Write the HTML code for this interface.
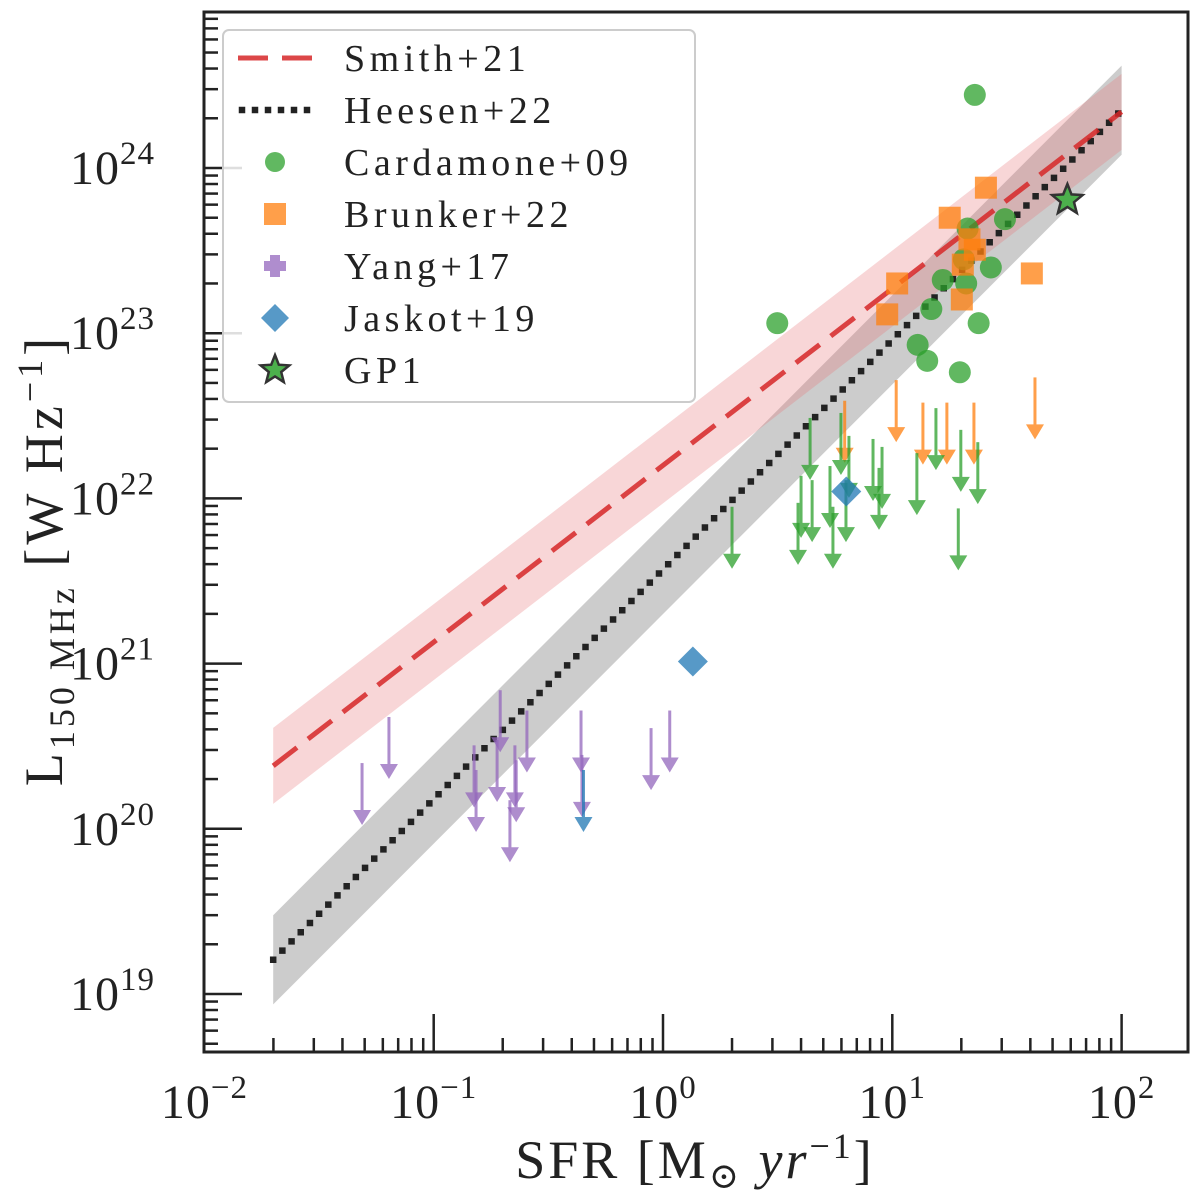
<!DOCTYPE html>
<html><head><meta charset="utf-8"><style>
html,body{margin:0;padding:0;background:#fff;}
svg{display:block;font-family:"Liberation Serif","DejaVu Serif",serif;}
</style></head><body>
<svg id="chart" width="1200" height="1200" viewBox="0 0 1200 1200" xmlns="http://www.w3.org/2000/svg">
<g id="plot"></g>
</svg>
<script>
// ---- data (log10 values) ----
const smithSlope = 1.07, smithAt1 = 22.20, smithWidth = 0.23;
const heesenSlope = 1.39, heesenAt1 = 21.57, heesenWidth = 0.27;
const lineRange = [-1.7, 2.0];
const xTickExps = [-2, -1, 0, 1, 2];
const yTickExps = [19, 20, 21, 22, 23, 24];
// Cardamone+09 detections [SFR, L]
const cardSFR = [22.9, 21.3, 31.0, 26.9, 16.6, 21.0, 14.8, 23.8, 12.9, 14.2, 19.7, 3.15, 20.5];
const cardL = [2.77e24, 4.3e23, 4.9e23, 2.5e23, 2.1e23, 2.0e23, 1.4e23, 1.15e23, 8.5e22, 6.8e22, 5.8e22, 1.15e23, 2.8e23];
// Brunker+22 detections
const brunSFR = [25.6, 17.8, 21.7, 22.9, 20.3, 10.5, 40.6, 20.1, 9.5];
const brunL = [7.6e23, 5.0e23, 3.7e23, 3.2e23, 2.6e23, 2.0e23, 2.3e23, 1.6e23, 1.3e23];
// Brunker+22 upper limits
const brunLimSFR = [6.2, 10.4, 13.6, 17.3, 22.7, 41.9];
const brunLimL = [3.9e22, 5.2e22, 3.8e22, 3.8e22, 3.8e22, 5.4e22];
// Cardamone+09 upper limits
const cardLimSFR = [2.0, 3.88, 4.0, 4.38, 4.47, 5.35, 5.51, 5.97, 6.28, 6.47, 8.24, 8.75, 9.02, 12.8, 15.5, 19.4, 19.9, 23.6];
const cardLimL = [8.9e21, 9.4e21, 1.37e22, 3.07e22, 1.29e22, 1.57e22, 8.9e21, 3.29e22, 1.29e22, 2.39e22, 2.29e22, 1.53e22, 2.05e22, 1.88e22, 3.52e22, 8.7e21, 2.6e22, 2.19e22];
// Yang+17 upper limits
const yangLimSFR = [0.0487, 0.0638, 0.150, 0.153, 0.189, 0.195, 0.215, 0.226, 0.229, 0.255, 0.439, 0.443, 0.887, 1.07];
const yangLimL = [2.5e20, 4.75e20, 3.2e20, 2.27e20, 3.45e20, 6.9e20, 1.49e20, 3.2e20, 2.6e20, 5.2e20, 5.2e20, 2.8e20, 4.07e20, 5.2e20];
// Jaskot+19
const jasSFR = [6.3, 1.35];
const jasL = [1.1e22, 1.03e21];
const jasLimSFR = [0.45];
const jasLimL = [2.27e20];
// GP1
const gpSFR = [58];
const gpL = [6.4e23];

// ---- axes ----
const X0 = 204, X1 = 1188, Y0 = 12, Y1 = 1052;
const xDec = 229.3, yDec = 165.2;
function sx(v){ return 663 + Math.log10(v) * xDec; }
function sxl(l){ return 663 + l * xDec; }
function sy(v){ return 168 + (24 - Math.log10(v)) * yDec; }
function syl(l){ return 168 + (24 - l) * yDec; }

const NS = "http://www.w3.org/2000/svg";
const g = document.getElementById('plot');
function mk(tag, attrs, parent){
  const e = document.createElementNS(NS, tag);
  for (const k in attrs) e.setAttribute(k, attrs[k]);
  (parent || g).appendChild(e);
  return e;
}
const defs = mk('defs', {});
const cp = mk('clipPath', {id:'clip'}, defs);
mk('rect', {x:X0, y:Y0, width:X1-X0, height:Y1-Y0}, cp);
const data = mk('g', {'clip-path':'url(#clip)'});



function band(slope, at1, w, color, op, name){
  const a = lineRange[0], b = lineRange[1];
  const pts = [[a, at1+slope*a+w],[b, at1+slope*b+w],[b, at1+slope*b-w],[a, at1+slope*a-w]];
  const p = mk('polygon', {points: pts.map(q => sxl(q[0])+','+syl(q[1])).join(' '), fill: color, 'fill-opacity': op}, data);
  
  
}
band(heesenSlope, heesenAt1, heesenWidth, '#7f7f7f', 0.4, 'heesen-band');
band(smithSlope, smithAt1, smithWidth, '#e8767a', 0.3, 'smith-band');

function line(slope, at1, attrs, name){
  const a = lineRange[0], b = lineRange[1];
  const l = mk('line', Object.assign({x1:sxl(a), y1:syl(at1+slope*a), x2:sxl(b), y2:syl(at1+slope*b)}, attrs), data);
  
  
}
line(heesenSlope, heesenAt1, {stroke:'#222', 'stroke-width':6.5, 'stroke-dasharray':'0 13', 'stroke-linecap':'square'}, 'heesen-line');
line(smithSlope, smithAt1, {stroke:'#d62728', 'stroke-opacity':0.85, 'stroke-width':5, 'stroke-dasharray':'30 14'}, 'smith-line');

function arrow(xv, lv, color, name){
  const x = sx(xv), y = sy(lv);
  const gg = mk('g', {opacity:0.75}, data);
  
  
  mk('line', {x1:x, y1:y, x2:x, y2:y+50, stroke:color, 'stroke-width':3}, gg);
  mk('polygon', {points:`${x-9},${y+47} ${x+9},${y+47} ${x},${y+62}`, fill:color}, gg);
}
brunLimSFR.forEach((v,i)=>arrow(v, brunLimL[i], '#ff7f0e', 'brunker-limit'));
cardLimSFR.forEach((v,i)=>arrow(v, cardLimL[i], '#2ca02c', 'cardamone-limit'));
yangLimSFR.forEach((v,i)=>arrow(v, yangLimL[i], '#9467bd', 'yang-limit'));
jasLimSFR.forEach((v,i)=>arrow(v, jasLimL[i], '#1f77b4', 'jaskot-limit'));

cardSFR.forEach((v,i)=>{
  const c = mk('circle', {cx:sx(v), cy:sy(cardL[i]), r:11, fill:'#2ca02c', 'fill-opacity':0.75}, data);
  
  
});
brunSFR.forEach((v,i)=>{
  const r = mk('rect', {x:sx(v)-11, y:sy(brunL[i])-11, width:22, height:22, fill:'#ff7f0e', 'fill-opacity':0.75}, data);
  
  
});
jasSFR.forEach((v,i)=>{
  const x = sx(v), y = sy(jasL[i]);
  const p = mk('polygon', {points:`${x},${y-15} ${x+15},${y} ${x},${y+15} ${x-15},${y}`, fill:'#1f77b4', 'fill-opacity':0.75}, data);
  
  
});
function starPts(cx, cy, R, r){
  let s = [];
  for (let k=0;k<10;k++){
    const a = -Math.PI/2 + k*Math.PI/5, rr = k%2 ? r : R;
    s.push((cx+rr*Math.cos(a)).toFixed(1)+','+(cy+rr*Math.sin(a)).toFixed(1));
  }
  return s.join(' ');
}
gpSFR.forEach((v,i)=>{
  const p = mk('polygon', {points:starPts(sx(v), sy(gpL[i]), 16, 7), fill:'#4cb04c', stroke:'#333', 'stroke-width':2.5}, data);
  
  
});

// frame
const frame = mk('rect', {x:X0, y:Y0, width:X1-X0, height:Y1-Y0, fill:'none', stroke:'#222', 'stroke-width':3});



// ticks
const ticks = mk('g', {stroke:'#222', 'stroke-width':2.5});


for (let e=-3; e<=2; e++){
  for (let m=1; m<10; m++){
    const x = sxl(e + Math.log10(m));
    if (x < X0+1 || x > X1-1) continue;
    const len = m===1 ? 38 : 14;
    mk('line', {x1:x, y1:Y1, x2:x, y2:Y1-len}, ticks);
  }
}
for (let e=18; e<=24; e++){
  for (let m=1; m<10; m++){
    const y = syl(e + Math.log10(m));
    if (y < Y0+1 || y > Y1-1) continue;
    const len = m===1 ? 38 : 14;
    mk('line', {x1:X0, y1:y, x2:X0+len, y2:y}, ticks);
  }
}
xTickExps.forEach(e=>{
  const t = mk('text', {x:sxl(e), y:1118, 'text-anchor':'middle', 'font-size':48, fill:'#222', 'letter-spacing':'1'});
  
  
  t.innerHTML = '10<tspan dy="-20" font-size="33">'+(e<0?'\u2212'+(-e):e)+'</tspan>';
});
yTickExps.forEach(e=>{
  const t = mk('text', {x:70, y:syl(e)+16, 'text-anchor':'start', 'font-size':48, fill:'#222', 'letter-spacing':'1'});
  
  
  t.innerHTML = '10<tspan dy="-20" font-size="33">'+e+'</tspan>';
});

// axis titles
const xt = mk('text', {x:695, y:1178, 'text-anchor':'middle', 'font-size':54, fill:'#222', 'letter-spacing':'3'});


xt.innerHTML = 'SFR [M<tspan dy="10" font-size="36">\u2299</tspan><tspan dy="-10"> </tspan><tspan font-style="italic">yr</tspan><tspan dy="-20" font-size="36">\u22121</tspan><tspan dy="20">]</tspan>';
const yt = mk('text', {x:0, y:0, 'text-anchor':'middle', 'font-size':54, fill:'#222', 'letter-spacing':'4', transform:'translate(62,560) rotate(-90)'});


yt.innerHTML = 'L<tspan dy="12" font-size="36">150 MHz</tspan><tspan dy="-12"> [W Hz</tspan><tspan dy="-20" font-size="36">\u22121</tspan><tspan dy="20">]</tspan>';

// legend
const lg = mk('g', {});


mk('rect', {x:223, y:30, width:472, height:372, rx:6, fill:'#fff', 'fill-opacity':0.85, stroke:'#ccc', 'stroke-width':2}, lg);
const labels = ['Smith+21','Heesen+22','Cardamone+09','Brunker+22','Yang+17','Jaskot+19','GP1'];
labels.forEach((s,i)=>{
  const y = 58 + i*52;
  const ent = mk('g', {}, lg);
  
  
  if (i===0) mk('line', {x1:238, y1:y, x2:312, y2:y, stroke:'#d62728', 'stroke-opacity':0.85, 'stroke-width':5, 'stroke-dasharray':'30 14'}, ent);
  if (i===1) mk('line', {x1:242, y1:y, x2:312, y2:y, stroke:'#222', 'stroke-width':6.5, 'stroke-dasharray':'0 13', 'stroke-linecap':'square'}, ent);
  if (i===2) mk('circle', {cx:275, cy:y, r:10, fill:'#2ca02c', 'fill-opacity':0.75}, ent);
  if (i===3) mk('rect', {x:264, y:y-11, width:22, height:22, fill:'#ff7f0e', 'fill-opacity':0.75}, ent);
  if (i===4) mk('path', {d:`M${270},${y-11}h10v6h6v10h-6v6h-10v-6h-6v-10h6z`, fill:'#9467bd', 'fill-opacity':0.75}, ent);
  if (i===5) mk('polygon', {points:`275,${y-14} 289,${y} 275,${y+14} 261,${y}`, fill:'#1f77b4', 'fill-opacity':0.75}, ent);
  if (i===6) mk('polygon', {points:starPts(275, y, 15, 6.5), fill:'#4cb04c', stroke:'#333', 'stroke-width':2.5}, ent);
  const t = mk('text', {x:344, y:y+13, 'font-size':38, fill:'#222', 'letter-spacing':'4.5'}, ent);
  t.textContent = s;
});
</script>
</body></html>
